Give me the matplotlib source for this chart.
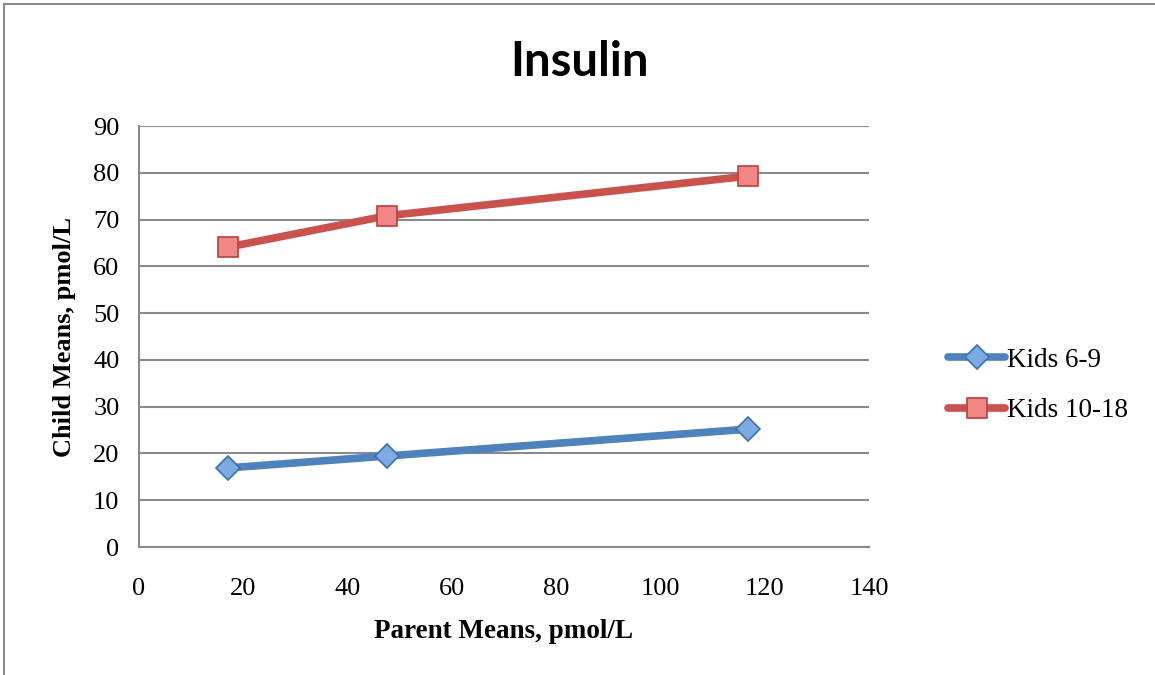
import matplotlib.pyplot as plt
from matplotlib.patches import Rectangle

# data
parent_means = [17, 47.5, 116.8]
kids_6_9 = [16.9, 19.45, 25.2]
kids_10_18 = [64.1, 70.8, 79.3]
x_ticks = [0, 20, 40, 60, 80, 100, 120, 140]
y_ticks = [0, 10, 20, 30, 40, 50, 60, 70, 80, 90]

serif = ['Liberation Serif', 'DejaVu Serif']

fig = plt.figure(figsize=(11.55, 6.75), dpi=100)
ax = fig.add_axes([0.1203, 0.1896, 0.6321, 0.6237])

# outer chart frame (top and left edges visible)
fig.patches.append(Rectangle((0.0035, -0.01), 1.2, 1.004, transform=fig.transFigure,
                             fill=False, edgecolor='#8c8c8c', linewidth=1.5))

ax.plot(parent_means, kids_6_9, color='#4f81bd', linewidth=5.5, marker='D',
        markersize=12, markerfacecolor='#7eaae2', markeredgecolor='#3d6ead',
        markeredgewidth=1.2, label='Kids 6-9', solid_capstyle='round', zorder=3)
ax.plot(parent_means, kids_10_18, color='#c9524f', linewidth=5.5, marker='s',
        markersize=14, markerfacecolor='#f08785', markeredgecolor='#b8403e',
        markeredgewidth=1.2, label='Kids 10-18', solid_capstyle='round', zorder=3)

ax.set_xlim(0, 140)
ax.set_ylim(0, 90)
ax.set_xticks(x_ticks)
ax.set_yticks(y_ticks)
ax.tick_params(length=0, labelsize=19)
ax.tick_params(axis='x', pad=22)
ax.tick_params(axis='y', pad=14)
for lbl in ax.get_xticklabels() + ax.get_yticklabels():
    lbl.set_family(serif)

ax.yaxis.grid(True, color='#8a8a8a', linewidth=1.5)
ax.set_axisbelow(True)
for s in ['top', 'right']:
    ax.spines[s].set_visible(False)
for s in ['left', 'bottom']:
    ax.spines[s].set_color('#8a8a8a')
    ax.spines[s].set_linewidth(1.5)

ax.set_xlabel('Parent Means, pmol/L', family=serif, fontweight='bold', fontsize=19.5, labelpad=14)
ax.set_ylabel('Child Means, pmol/L', family=serif, fontweight='bold', fontsize=19, labelpad=12)

fig.text(0.502, 0.908, 'Insulin', family=['Lato', 'DejaVu Sans'], fontweight='bold',
         fontsize=34, ha='center', va='center')

leg = fig.legend(loc='center left', bbox_to_anchor=(0.8, 0.429), frameon=False,
                 prop={'family': serif, 'size': 19.5}, handlelength=2.1,
                 handletextpad=0.05, labelspacing=0.95)

fig.savefig('out.png', dpi=100)
